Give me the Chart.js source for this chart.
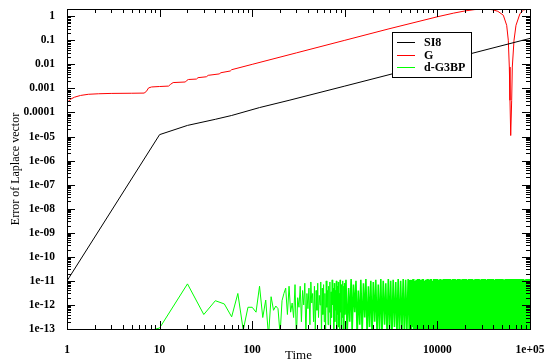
<!DOCTYPE html>
<html>
<head>
<meta charset="utf-8">
<script src="https://cdn.jsdelivr.net/npm/chart.js@4.4.1/dist/chart.umd.min.js"></script>
<style>
  html, body { margin: 0; padding: 0; background: #fff; }
  #wrap { width: 546px; height: 363px; }
</style>
</head>
<body>
<div id="wrap"><canvas id="grafico" width="546" height="363"></canvas></div>
<script>
// Ejes (escala log-log)
const xTickValues = [1, 10, 100, 1000, 10000, 100000];
const xTickLabels = ['1', '10', '100', '1000', '10000', '1e+05'];
const yTickValues = [1e-13, 1e-12, 1e-11, 1e-10, 1e-9, 1e-8, 1e-7, 1e-6, 1e-5, 1e-4, 1e-3, 1e-2, 1e-1, 1];
const yTickLabels = ['1e-13', '1e-12', '1e-11', '1e-10', '1e-09', '1e-08', '1e-07', '1e-06', '1e-05', '0.0001', '0.001', '0.01', '0.1', '1'];

const seriesNames = ['SI8', 'G', 'd-G3BP'];

// SI8 (negro)
const si8Time = [1, 10, 20, 40, 60, 120, 250, 1000, 10000, 100000];
const si8Error = [1e-11, 1.2e-5, 2.9e-5, 5.2e-5, 7.5e-5, 1.6e-4, 3.2e-4, 1.25e-3, 1.22e-2, 0.12];

// G (rojo)
const gTime = [1, 1.1, 1.2, 1.4, 1.7, 2.2, 3, 5, 6.8, 7.2,
  7.6, 8.2, 10, 12.5, 13.2, 14, 19, 19.8, 20.5, 25,
  26, 32, 33.5, 44, 46, 58, 60, 100, 300, 1000,
  3000, 10000, 15000, 20000, 25000, 30000, 35000, 40000, 45000, 51500,
  56000, 58300, 59800, 60800, 61900, 63400, 64400, 67200, 70600, 78000,
  85000, 92000, 100000];
const gError = [2.6e-4, 3.6e-4, 4.3e-4, 5.1e-4, 5.7e-4, 6.0e-4, 6.2e-4, 6.3e-4, 6.4e-4, 7.5e-4,
  1.05e-3, 1.15e-3, 1.2e-3, 1.25e-3, 1.5e-3, 1.75e-3, 1.85e-3, 2.2e-3, 2.35e-3, 2.45e-3,
  2.8e-3, 3.05e-3, 3.5e-3, 4.0e-3, 4.5e-3, 5.3e-3, 6.0e-3, 1e-2, 3e-2, 0.1,
  0.3, 0.95, 1.35, 1.67, 1.88, 1.99, 1.98, 1.84, 1.6, 1.1,
  0.42, 0.1, 7.7e-3, 3.2e-4, 1.1e-5, 3.2e-4, 7.7e-3, 0.1, 0.42, 1.3,
  1.8, 1.97, 1.95];

// d-G3BP (verde)
const greenTime = [1, 10, 20, 30, 40, 50, 60, 70, 80, 90,
  100, 110, 120, 130, 140, 150, 160, 170, 180, 190,
  200, 210, 220, 230, 240, 250, 260, 270, 280, 290,
  300, 310, 320, 330, 340, 350, 360, 370, 380, 390,
  400, 410, 420, 430, 440, 450, 460, 470, 480, 490,
  500, 510, 520, 530, 540, 550, 560, 570, 580, 590,
  600, 610, 620, 630, 640, 650, 660, 670, 680, 690,
  700, 710, 720, 730, 740, 750, 760, 770, 780, 790,
  800, 810, 820, 830, 840, 850, 860, 870, 880, 890,
  900, 910, 920, 930, 940, 950, 960, 970, 980, 990,
  1000,
  1030, 1060, 1100, 1130, 1170, 1200, 1240, 1280, 1320, 1360,
  1400, 1450, 1490, 1540, 1590, 1640, 1690, 1740, 1800, 1850,
  1910, 1970, 2030, 2100, 2160, 2230, 2300, 2370, 2450, 2520,
  2600, 2690, 2770, 2860, 2950, 3040, 3130, 3230, 3330, 3440,
  3550, 3660, 3770, 3890, 4010, 4140, 4270, 4400, 4540, 4680,
  4830, 4980,
  5080, 5180, 5280, 5390, 5500, 5610, 5720, 5830, 5950, 6070,
  6190, 6310, 6440, 6570, 6700, 6830, 6970, 7110, 7250, 7400,
  7540, 7700, 7850, 8010, 8170, 8330, 8500, 8670, 8840, 9020,
  9200, 9380, 9570, 9760, 9960, 10160, 10360, 10570, 10780, 11000,
  11210, 11440, 11670, 11900, 12140, 12380, 12630, 12880, 13140, 13400,
  13670, 13940, 14220, 14500, 14790, 15090, 15390, 15700, 16010, 16330,
  16660, 16990, 17330, 17680, 18030, 18390, 18760, 19140, 19520, 19910,
  20310, 20710, 21130, 21550, 21980, 22420, 22870, 23330, 23790, 24270,
  24750, 25250, 25750, 26270, 26790, 27330, 27880, 28430, 29000, 29580,
  30170, 30780, 31390, 32020, 32660, 33310, 33980, 34660, 35350, 36060,
  36780, 37510, 38260, 39030, 39810, 40600, 41420, 42240, 43090, 43950,
  44830, 45730, 46640, 47570, 48520, 49500, 50490, 51500, 52530, 53580,
  54650, 55740, 56860, 58000, 59160, 60340, 61550, 62780, 64030, 65320,
  66620, 67950, 69310, 70700, 72110, 73560, 75030, 76530, 78060, 79620,
  81220, 82840, 84500, 86190, 87910, 89670, 91460, 93290, 95160, 97060,
  99000, 100000];
const greenError = [1e-14, 1.1e-13, 7.5e-12, 4e-13, 1.5e-12, 1.1e-12, 3.2e-13, 3e-12, 9e-14, 8e-13,
  8e-13, 5e-13, 6e-12, 3e-13, 1.6e-12, 5e-14, 2.2e-12, 6e-13, 9e-13, 7e-13,
  6e-14, 1.5e-12, 3e-12, 5e-12, 4e-13, 6e-12, 5e-13, 1.2e-12, 3e-13, 7e-12,
  4e-14, 2e-12, 8e-13, 6e-12, 2e-13, 4e-12, 1e-12, 8e-12, 5e-14, 3e-12,
  7e-13, 5e-12, 1.5e-13, 9e-12, 1.2e-12, 3e-12, 2e-13, 6e-12, 8e-14, 4e-12,
  6e-13, 8e-12, 3e-13, 2.5e-12, 1e-12, 9e-12, 5e-14, 5e-12, 4e-13, 7e-12,
  2e-13, 3e-12, 6e-14, 1e-11, 8e-13, 4e-12, 1.5e-13, 6e-12, 5e-13, 9e-12,
  7e-14, 3.5e-12, 3e-13, 1.1e-11, 1e-12, 5e-12, 5e-14, 8e-12, 2e-13, 4e-12,
  6e-13, 1e-11, 8e-14, 6e-12, 4e-13, 9e-12, 1.2e-13, 3e-12, 6e-14, 1.1e-11,
  5e-13, 7e-12, 9e-14, 5e-12, 3e-13, 1e-11, 1e-13, 6e-12, 7e-14, 8e-12,
  4e-13,
  1.1e-11, 6e-14, 5e-12, 2e-13, 1.2e-11, 8e-14, 7e-12, 5e-13, 1e-11, 5e-14,
  4e-12, 1.5e-13, 1.1e-11, 7e-14, 8e-12, 3e-13, 1.2e-11, 6e-14, 6e-12, 1.2e-13,
  1e-11, 5e-14, 9e-12, 2e-13, 1.1e-11, 6e-14, 7e-12, 1e-13, 1.2e-11, 5e-14,
  1e-11, 1.5e-13, 8e-12, 6e-14, 1.2e-11, 8e-14, 1e-11, 5e-14, 1.1e-11, 1.2e-13,
  9e-12, 6e-14, 1.2e-11, 5e-14, 1e-11, 9e-14, 1.2e-11, 5e-14, 1.1e-11, 7e-14,
  1.2e-11, 5e-14,
  1.1e-11, 5e-14, 9e-12, 1.2e-13, 1.2e-11, 6e-14, 1e-11, 4e-14, 1.1e-11, 9e-14,
  1.2e-11, 5e-14, 1e-11, 7e-14, 1.1e-11, 4e-14, 1.2e-11, 1.1e-13, 1e-11, 5e-14,
  1.1e-11, 6e-14, 1.2e-11, 4e-14, 1.1e-11, 8e-14, 1.2e-11, 5e-14, 1e-11, 6e-14,
  1.2e-11, 4e-14, 1.1e-11, 7e-14, 1.2e-11, 5e-14, 1.1e-11, 1e-13, 1.2e-11, 4e-14,
  1.1e-11, 6e-14, 1.2e-11, 5e-14, 1.2e-11, 8e-14, 1.1e-11, 4e-14, 1.2e-11, 6e-14,
  1.2e-11, 5e-14, 1.1e-11, 7e-14, 1.2e-11, 4e-14, 1.2e-11, 6e-14, 1.1e-11, 5e-14,
  1.2e-11, 8e-14, 1.2e-11, 4e-14, 1.1e-11, 6e-14, 1.2e-11, 5e-14, 1.2e-11, 7e-14,
  1.2e-11, 4e-14, 1.1e-11, 6e-14, 1.2e-11, 5e-14, 1.2e-11, 9e-14, 1.2e-11, 4e-14,
  1.1e-11, 6e-14, 1.2e-11, 5e-14, 1.2e-11, 7e-14, 1.2e-11, 4e-14, 1.1e-11, 6e-14,
  1.2e-11, 5e-14, 1.2e-11, 8e-14, 1.2e-11, 4e-14, 1.1e-11, 6e-14, 1.2e-11, 5e-14,
  1.2e-11, 7e-14, 1.2e-11, 4e-14, 1.2e-11, 6e-14, 1.1e-11, 5e-14, 1.2e-11, 8e-14,
  1.2e-11, 4e-14, 1.2e-11, 6e-14, 1.2e-11, 5e-14, 1.2e-11, 7e-14, 1.1e-11, 4e-14,
  1.2e-11, 6e-14, 1.2e-11, 5e-14, 1.2e-11, 8e-14, 1.2e-11, 4e-14, 1.2e-11, 6e-14,
  1.1e-11, 5e-14, 1.2e-11, 7e-14, 1.2e-11, 4e-14, 1.2e-11, 6e-14, 1.2e-11, 5e-14,
  1.2e-11, 8e-14, 1.2e-11, 4e-14, 1.1e-11, 6e-14, 1.2e-11, 5e-14, 1.2e-11, 7e-14,
  1.2e-11, 4e-14];

const serif = '"Liberation Serif", "Times New Roman", serif';
const ctx = document.getElementById('grafico');

function toPoints(times, values) {
  return times.map((t, i) => ({ x: t, y: values[i] }));
}

// la muestra original es cada 10 unidades de tiempo: en la zona densa se engrosa el trazo
function greenWidth(seg) {
  const t = seg.p0.parsed.x;
  if (t >= 5000) return 2.4;
  if (t >= 1000) return 1.6;
  return 1;
}

// marco, ticks hacia adentro y leyenda (estilo xmgrace)
const framePlugin = {
  id: 'frame',
  afterDatasetsDraw(chart) {
    const c = chart.ctx;
    const a = chart.chartArea;
    const sx = chart.scales.x;
    const sy = chart.scales.y;
    c.save();
    c.strokeStyle = '#000';
    c.lineWidth = 1;
    c.beginPath();
    xTickValues.forEach(d => {
      for (let k = 1; k < 10; k++) {
        const v = d * k;
        if (v > sx.max) break;
        const px = Math.round(sx.getPixelForValue(v)) + 0.5;
        const len = k === 1 ? 8 : 4;
        c.moveTo(px, a.bottom); c.lineTo(px, a.bottom - len);
        c.moveTo(px, a.top); c.lineTo(px, a.top + len);
      }
    });
    yTickValues.forEach(d => {
      for (let k = 1; k < 10; k++) {
        const v = d * k;
        if (v > sy.max) break;
        const py = Math.round(sy.getPixelForValue(v)) + 0.5;
        const len = k === 1 ? 8 : 4;
        c.moveTo(a.left, py); c.lineTo(a.left + len, py);
        c.moveTo(a.right, py); c.lineTo(a.right - len, py);
      }
    });
    c.stroke();
    c.strokeRect(Math.round(a.left) + 0.5, Math.round(a.top) + 0.5,
      Math.round(a.right - a.left), Math.round(a.bottom - a.top));

    // leyenda
    const lx = 392, ly = 32, lw = 79, lh = 45;
    c.fillStyle = '#fff';
    c.fillRect(lx, ly, lw, lh);
    c.strokeStyle = '#000';
    c.strokeRect(lx + 0.5, ly + 0.5, lw, lh);
    c.font = 'bold 12px ' + serif;
    c.textBaseline = 'middle';
    chart.data.datasets.forEach((ds, i) => {
      const y = Math.round(ly + 10 + i * 12.7) + 0.5;
      c.strokeStyle = ds.borderColor;
      c.lineWidth = 1;
      c.beginPath();
      c.moveTo(lx + 5, y);
      c.lineTo(lx + 23, y);
      c.stroke();
      c.fillStyle = '#000';
      c.fillText(ds.label, lx + 32, y);
    });
    c.restore();
  }
};

new Chart(ctx, {
  type: 'line',
  data: {
    datasets: [
      { label: seriesNames[0], data: toPoints(si8Time, si8Error), borderColor: '#000000' },
      { label: seriesNames[1], data: toPoints(gTime, gError), borderColor: '#ff0000' },
      { label: seriesNames[2], data: toPoints(greenTime, greenError), borderColor: '#00ff00',
        borderJoinStyle: 'bevel', segment: { borderWidth: greenWidth } }
    ]
  },
  options: {
    responsive: false,
    animation: false,
    devicePixelRatio: 1,
    layout: { padding: { top: 9, right: 16, left: 0, bottom: 0 } },
    elements: {
      point: { radius: 0 },
      line: { borderWidth: 1, tension: 0, fill: false }
    },
    plugins: {
      legend: { display: false },
      tooltip: { enabled: false }
    },
    scales: {
      x: {
        type: 'logarithmic',
        min: 1,
        max: 100000,
        grid: { display: false },
        border: { display: false },
        afterBuildTicks: s => { s.ticks = xTickValues.map(v => ({ value: v })); },
        afterFit: s => { s.height = 34; s.paddingLeft = 0; s.paddingRight = 0; },
        ticks: {
          autoSkip: false,
          maxRotation: 0,
          padding: 6,
          color: '#000',
          font: { family: serif, size: 11.5, weight: 'bold' },
          callback: (v, i) => xTickLabels[i]
        },
        title: {
          display: true,
          text: 'Time',
          color: '#000',
          font: { family: serif, size: 13 },
          padding: { top: 0, bottom: 0 }
        }
      },
      y: {
        type: 'logarithmic',
        min: 1e-13,
        max: 2,
        grid: { display: false },
        border: { display: false },
        afterBuildTicks: s => { s.ticks = yTickValues.map(v => ({ value: v })); },
        afterFit: s => { s.width = 67; s.paddingTop = 0; s.paddingBottom = 0; },
        ticks: {
          autoSkip: false,
          padding: 4,
          color: '#000',
          font: { family: serif, size: 11.5, weight: 'bold' },
          callback: (v, i) => yTickLabels[i]
        },
        title: {
          display: true,
          text: 'Error of Laplace vector',
          color: '#000',
          font: { family: serif, size: 12 },
          padding: { top: 9, bottom: 0 }
        }
      }
    }
  },
  plugins: [framePlugin]
});
</script>
</body>
</html>
